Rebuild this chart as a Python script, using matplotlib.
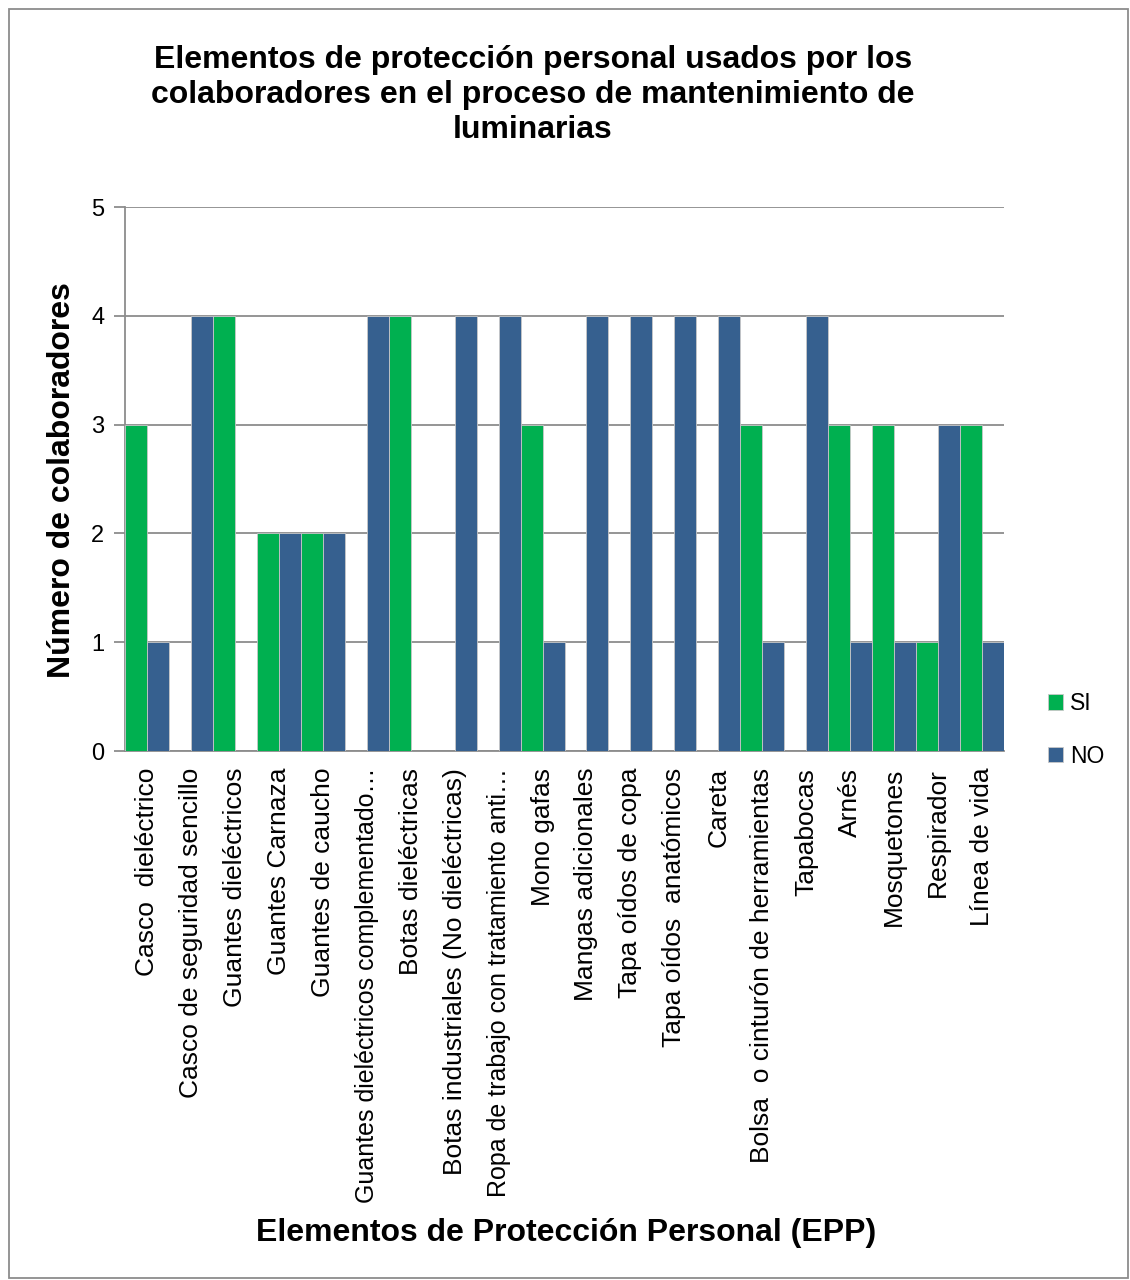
import numpy as np
import matplotlib.pyplot as plt
from matplotlib.patches import Rectangle

plt.rcParams['font.family'] = ['Liberation Sans', 'DejaVu Sans']

# Data
categorias = [
    "Casco  dieléctrico",
    "Casco de seguridad sencillo",
    "Guantes dieléctricos",
    "Guantes Carnaza",
    "Guantes de caucho",
    "Guantes dieléctricos complementado…",
    "Botas dieléctricas",
    "Botas industriales (No dieléctricas)",
    "Ropa de trabajo con tratamiento anti…",
    "Mono gafas",
    "Mangas adicionales",
    "Tapa oídos de copa",
    "Tapa oídos  anatómicos",
    "Careta",
    "Bolsa  o cinturón de herramientas",
    "Tapabocas",
    "Arnés",
    "Mosquetones",
    "Respirador",
    "Línea de vida",
]
si = [3, 0, 4, 2, 2, 0, 4, 0, 0, 3, 0, 0, 0, 0, 3, 0, 3, 3, 1, 3]
no = [1, 4, 0, 2, 2, 4, 0, 4, 4, 1, 4, 4, 4, 4, 1, 4, 1, 1, 3, 1]

verde = "#00B050"
azul = "#36608F"
gris = "#8C8C8C"

W, H = 1130, 1280
fig = plt.figure(figsize=(W / 100, H / 100), dpi=100)
ax = fig.add_axes([125 / W, 1 - 751 / H, (1004 - 125) / W, (751 - 207) / H])

x = np.arange(len(categorias))
w = 0.5
ax.bar(x - w / 2, si, w, color=verde, edgecolor="#C8C8C8", linewidth=0.6, label="SI", zorder=3)
ax.bar(x + w / 2, no, w, color=azul, edgecolor="#C8C8C8", linewidth=0.6, label="NO", zorder=3)

ax.set_xlim(-0.5, len(categorias) - 0.5)
ax.set_ylim(0, 5)
ax.set_yticks(range(6))
ax.yaxis.grid(True, color=gris, linewidth=1.3, zorder=0)
ax.set_axisbelow(True)

ax.set_xticks(x)
labels = ax.set_xticklabels(categorias, rotation=90, ha="center", va="top", fontsize=19)
# the truncated labels are a little shorter in the original
for t in labels:
    if t.get_text().endswith("…"):
        t.set_fontsize(18)
ax.tick_params(axis="x", length=0, pad=12)
ax.tick_params(axis="y", length=8, width=1.3, color=gris, labelsize=17, pad=7)

for s in ["top", "right"]:
    ax.spines[s].set_visible(False)
for s in ["left", "bottom"]:
    ax.spines[s].set_color(gris)
    ax.spines[s].set_linewidth(1.3)

# Legend
ax.legend(loc="center left", bbox_to_anchor=(1.027, 0.0386), frameon=False,
          fontsize=16.5, handlelength=0.65, handleheight=0.65, handletextpad=0.3,
          labelspacing=1.3)

# Titles and labels
fig.text(533 / W, 1 - 95 / H,
         "Elementos de protección personal usados por los\n"
         "colaboradores en el proceso de mantenimiento de\n"
         "luminarias",
         ha="center", va="center", fontsize=23, fontweight="bold", linespacing=1.2)
fig.text(62 / W, 1 - 480 / H, "Número de colaboradores", rotation=90,
         ha="center", va="center", fontsize=23, fontweight="bold")
fig.text(566 / W, 1 - 1233 / H, "Elementos de Protección Personal (EPP)",
         ha="center", va="center", fontsize=23, fontweight="bold")

# Outer frame
fig.patches.append(Rectangle((9 / W, 1 - 1278 / H), (1128 - 9) / W, (1278 - 9) / H,
                             transform=fig.transFigure, fill=False,
                             edgecolor=gris, linewidth=1.3))

fig.savefig("out.png", dpi=100)
